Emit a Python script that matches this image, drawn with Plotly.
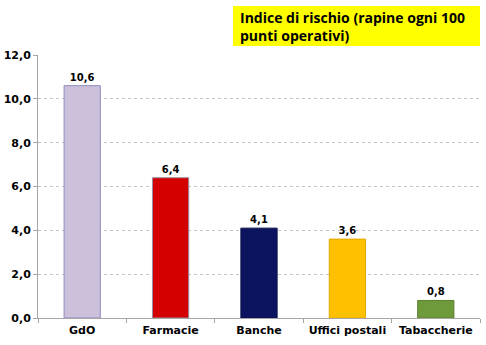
import plotly.graph_objects as go

categories = ["GdO", "Farmacie", "Banche", "Uffici postali", "Tabaccherie"]
values = [10.6, 6.4, 4.1, 3.6, 0.8]
value_labels = ["10,6", "6,4", "4,1", "3,6", "0,8"]
fill_colors = ["#CCC0DA", "#D40000", "#0C1460", "#FFC000", "#6E9A3C"]
line_colors = ["#8C8CBE", "#9A8CA8", "#0A0F48", "#E0A800", "#5A8030"]
y_ticks = [0, 2, 4, 6, 8, 10, 12]

fig = go.Figure(
    go.Bar(
        x=categories,
        y=values,
        width=0.41,
        marker=dict(color=fill_colors, line=dict(color=line_colors, width=1)),
        text=value_labels,
        textposition="outside",
        cliponaxis=False,
        textfont=dict(family="DejaVu Sans", size=10, color="#000000", weight="bold"),
    )
)

fig.update_layout(
    width=486,
    height=345,
    margin=dict(l=38, r=6, t=55, b=27),
    paper_bgcolor="white",
    plot_bgcolor="white",
    separators=",.",
    showlegend=False,
    bargap=0.59,
    xaxis=dict(
        type="category",
        automargin=False,
        showline=True,
        linecolor="#A6A6A6",
        linewidth=1,
        ticks="outside",
        tickson="boundaries",
        ticklen=4,
        tickcolor="#A6A6A6",
        showgrid=False,
        ticklabelstandoff=2,
        tickfont=dict(family="DejaVu Sans", size=11, color="#000000", weight="bold"),
    ),
    yaxis=dict(
        range=[0, 12],
        automargin=False,
        tickvals=y_ticks,
        tickformat=".1f",
        showline=True,
        linecolor="#A6A6A6",
        linewidth=1,
        ticks="outside",
        ticklen=4,
        tickcolor="#A6A6A6",
        showgrid=True,
        gridcolor="#C4C4C4",
        griddash="dot",
        gridwidth=1,
        zeroline=False,
        tickfont=dict(family="DejaVu Sans", size=11, color="#000000", weight="bold"),
    ),
)

# Yellow caption box in the top right corner
fig.add_shape(
    type="rect",
    xref="paper", yref="paper",
    x0=(233 - 38) / 442, x1=(480 - 38) / 442,
    y0=(345 - 27 - 46) / 263, y1=(345 - 27 - 6) / 263,
    fillcolor="#FFFF00",
    line=dict(width=0),
    layer="above",
)
fig.add_annotation(
    xref="paper", yref="paper",
    x=(238 - 38) / 442, y=(345 - 27 - 26) / 263,
    xanchor="left", yanchor="middle",
    align="left",
    showarrow=False,
    text="Indice di rischio (rapine ogni 100<br>punti operativi)",
    font=dict(family="Open Sans", size=14, color="#000000", weight="bold"),
)

fig.write_html("out.html")
